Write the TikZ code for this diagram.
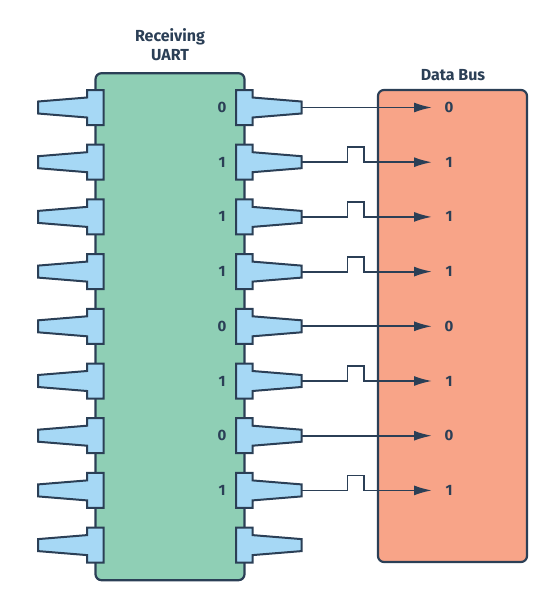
\documentclass[tikz,border=0pt]{standalone}
\usepackage{fontspec}
\setmainfont{Fira Sans}
\usetikzlibrary{arrows.meta}
\definecolor{ink}{HTML}{2B3F56}
\definecolor{chipfill}{HTML}{8FCFB5}
\definecolor{pinfill}{HTML}{A6D8F5}
\definecolor{busfill}{HTML}{F8A488}
\tikzset{
  x=1pt,y=-1pt,
  blockbox/.style={draw=ink,line width=2.2pt,rounded corners=6pt,inner sep=0pt,outer sep=0pt,anchor=north west},
  pinshape/.style={draw=ink,fill=pinfill,line width=2pt,miter limit=4},
  wire/.style={draw=ink,line width=1.8pt},
  arrowwire/.style={wire,-{Latex[length=18pt,width=10pt]}},
  bitlabel/.style={font=\fontsize{15}{16}\selectfont\bfseries,text=ink,inner sep=0pt},
  titlelabel/.style={font=\fontsize{16}{19}\selectfont\bfseries,text=ink,align=center,inner sep=0pt}
}
\begin{document}
\begin{tikzpicture}
\useasboundingbox (0,0) rectangle (553,595);
\node[blockbox,fill=chipfill,minimum width=149pt,minimum height=507pt] (chip) at (95.5,73.2) {};
\node[blockbox,fill=busfill,minimum width=149pt,minimum height=472pt] (bus) at (378,90) {};
\node[titlelabel] (chiptitle) at (170,44.7) {Receiving\\UART};
\node[titlelabel] (bustitle) at (453,75.5) {Data Bus};
\foreach \i/\b/\p in {0/0/0,1/1/1,2/1/1,3/1/1,4/0/0,5/1/1,6/0/0,7/1/1,8/x/x}{
  \pgfmathsetmacro{\yc}{107.5+\i*54.7}
  \draw[pinshape] (103.5,\yc-17.5) -- (87,\yc-17.5) -- (87,\yc-10) -- (38,\yc-6) -- (38,\yc+6) -- (87,\yc+10) -- (87,\yc+17.5) -- (103.5,\yc+17.5) -- cycle;
  \draw[pinshape] (236,\yc-17.5) -- (252.5,\yc-17.5) -- (252.5,\yc-10) -- (301.5,\yc-6) -- (301.5,\yc+6) -- (252.5,\yc+10) -- (252.5,\yc+17.5) -- (236,\yc+17.5) -- cycle;
  \coordinate (tip\i) at (302,\yc);
  \coordinate (end\i) at (432,\yc);
  \if\b x\else
    \node[bitlabel] (chipbit\i) at (222,\yc) {\b};
    \node[bitlabel] (busbit\i) at (449,\yc) {\b};
  \fi
  \if\p 0
    \draw[arrowwire] (tip\i) -- (end\i);
  \fi
  \if\p 1
    \draw[arrowwire] (tip\i) -- (347.5,\yc) -- (347.5,\yc-15) -- (364,\yc-15) -- (364,\yc) -- (end\i);
  \fi
}
\end{tikzpicture}
\end{document}
